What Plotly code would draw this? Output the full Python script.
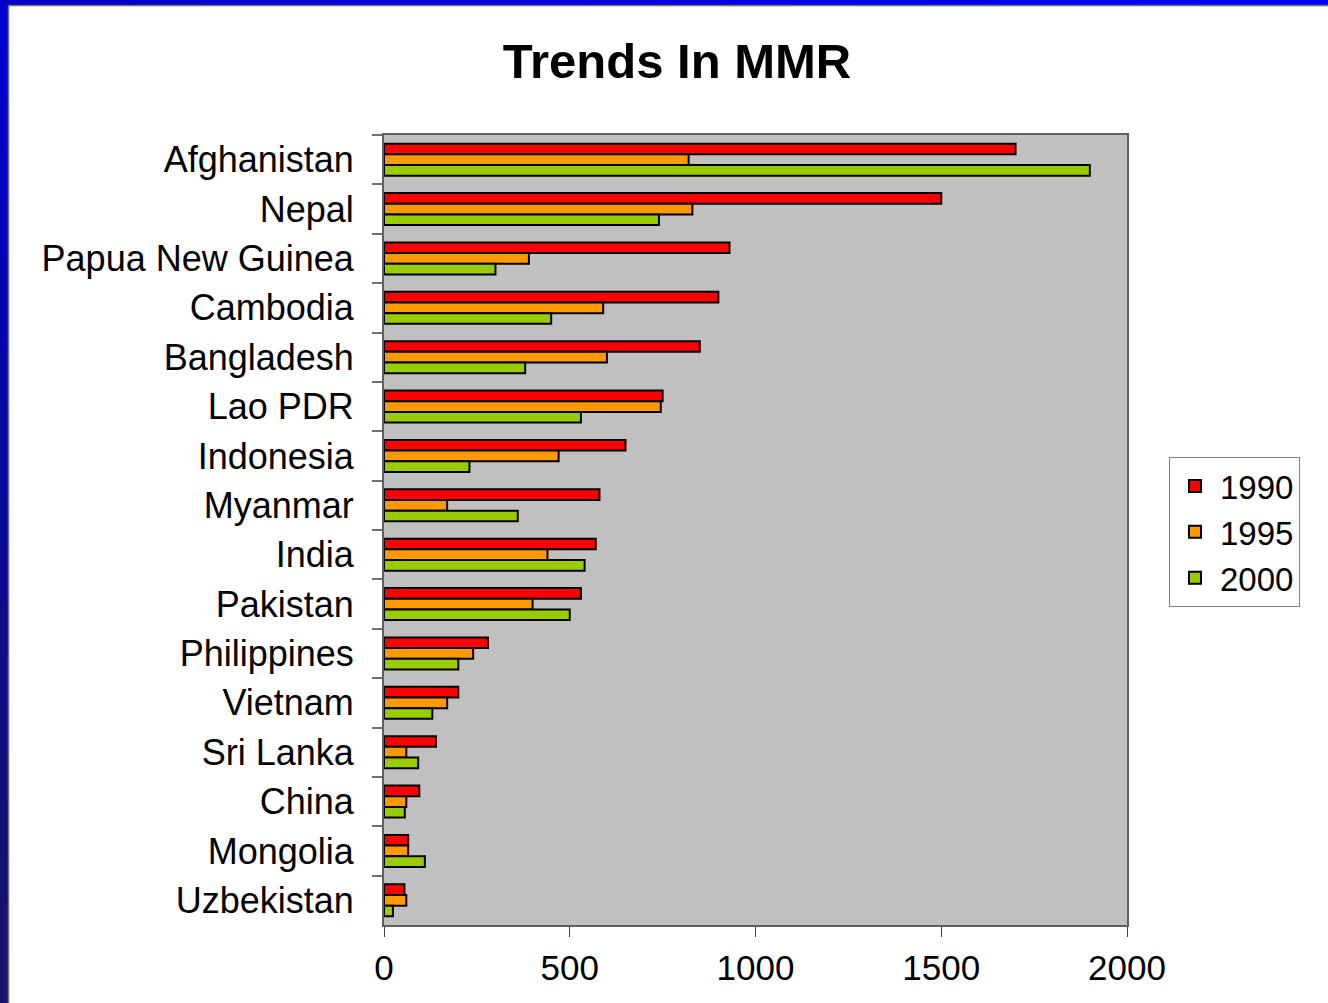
import plotly.graph_objects as go

# Maternal mortality ratio by country (per 100,000 live births)
countries = ["Afghanistan", "Nepal", "Papua New Guinea", "Cambodia", "Bangladesh",
             "Lao PDR", "Indonesia", "Myanmar", "India", "Pakistan", "Philippines",
             "Vietnam", "Sri Lanka", "China", "Mongolia", "Uzbekistan"]
mmr_1990 = [1700, 1500, 930, 900, 850, 750, 650, 580, 570, 530, 280, 200, 140, 95, 65, 55]
mmr_1995 = [820, 830, 390, 590, 600, 745, 470, 170, 440, 400, 240, 170, 60, 60, 65, 60]
mmr_2000 = [1900, 740, 300, 450, 380, 530, 230, 360, 540, 500, 200, 130, 92, 56, 110, 24]
years = ["1990", "1995", "2000"]
series = [mmr_1990, mmr_1995, mmr_2000]
colors = ["#FF0000", "#FF9900", "#99CC00"]
x_ticks = [0, 500, 1000, 1500, 2000]

W, H = 1328, 1003
M_L, M_R, M_T, M_B = 384, 201, 135, 78
PW, PH = W - M_L - M_R, H - M_T - M_B

FONT = "Liberation Sans, Arial, sans-serif"

fig = go.Figure()
for name, vals, col in zip(years, series, colors):
    fig.add_trace(go.Bar(
        y=countries, x=vals, name=name, orientation="h",
        marker=dict(color=col, line=dict(color="#000000", width=2)),
    ))


def px_x(p):
    return (p - M_L) / PW


def px_y(p):
    return (H - M_B - p) / PH


def lerp_hex(c0, c1, t):
    a = [int(c0[i:i + 2], 16) for i in (1, 3, 5)]
    b = [int(c1[i:i + 2], 16) for i in (1, 3, 5)]
    return "#" + "".join(f"{round(a[k] + (b[k] - a[k]) * t):02X}" for k in range(3))


shapes = []
# slide frame: left band shading from bright blue to navy
n = 20
for i in range(n):
    y0p, y1p = H * i / n, H * (i + 1) / n + 2
    shapes.append(dict(type="rect", xref="paper", yref="paper",
                       x0=px_x(-2), x1=px_x(8), y0=px_y(y1p), y1=px_y(y0p),
                       fillcolor=lerp_hex("#0000CC", "#161466", i / (n - 1)),
                       line=dict(width=0), layer="above"))
# top band, brightening to the right
for i in range(n):
    x0p, x1p = W * i / n, W * (i + 1) / n + 2
    shapes.append(dict(type="rect", xref="paper", yref="paper",
                       x0=px_x(x0p), x1=px_x(x1p), y0=px_y(5), y1=px_y(-2),
                       fillcolor=lerp_hex("#0000C8", "#0000FF", i / (n - 1)),
                       line=dict(width=0), layer="above"))
# thin grey inner edge of the frame
shapes.append(dict(type="line", xref="paper", yref="paper",
                   x0=px_x(8.5), x1=px_x(8.5), y0=px_y(H + 2), y1=px_y(5),
                   line=dict(color="#707070", width=1.5), layer="above"))
shapes.append(dict(type="line", xref="paper", yref="paper",
                   x0=px_x(8), x1=px_x(W + 2), y0=px_y(5.5), y1=px_y(5.5),
                   line=dict(color="#707070", width=1.5), layer="above"))

fig.update_layout(
    width=W, height=H,
    margin=dict(l=M_L, r=M_R, t=M_T, b=M_B, autoexpand=False),
    paper_bgcolor="#FFFFFF",
    plot_bgcolor="#C0C0C0",
    barmode="group",
    bargap=0.35,
    bargroupgap=0,
    font=dict(family=FONT, color="#000000"),
    title=dict(text="<b>Trends In MMR</b>", x=677 / W, xref="container", xanchor="center",
               y=1 - 61 / H, yref="container", yanchor="middle",
               font=dict(size=49, family=FONT, color="#000000")),
    legend=dict(x=px_x(1169), y=px_y(457), xanchor="left", yanchor="top",
                bgcolor="#FFFFFF", bordercolor="#808080", borderwidth=1,
                font=dict(size=33, family=FONT, color="#000000"),
                traceorder="normal", tracegroupgap=0, itemwidth=40),
    shapes=shapes,
    xaxis=dict(range=[0, 2000], tickvals=x_ticks, ticktext=[str(v) for v in x_ticks],
               showgrid=False, zeroline=False,
               showline=True, linecolor="#606060", linewidth=2, mirror=True,
               ticks="outside", ticklen=10, tickcolor="#404040", tickwidth=1,
               tickfont=dict(size=35, family=FONT, color="#000000"),
               ticklabelstandoff=1),
    yaxis=dict(autorange="reversed", categoryorder="array", categoryarray=countries,
               showgrid=False, zeroline=False,
               showline=True, linecolor="#606060", linewidth=2, mirror=True,
               ticks="outside", tickson="boundaries", ticklen=10,
               tickcolor="#707070", tickwidth=2,
               tickfont=dict(size=36, family=FONT, color="#000000"),
               ticklabelstandoff=21),
)

fig.write_html("out.html")
